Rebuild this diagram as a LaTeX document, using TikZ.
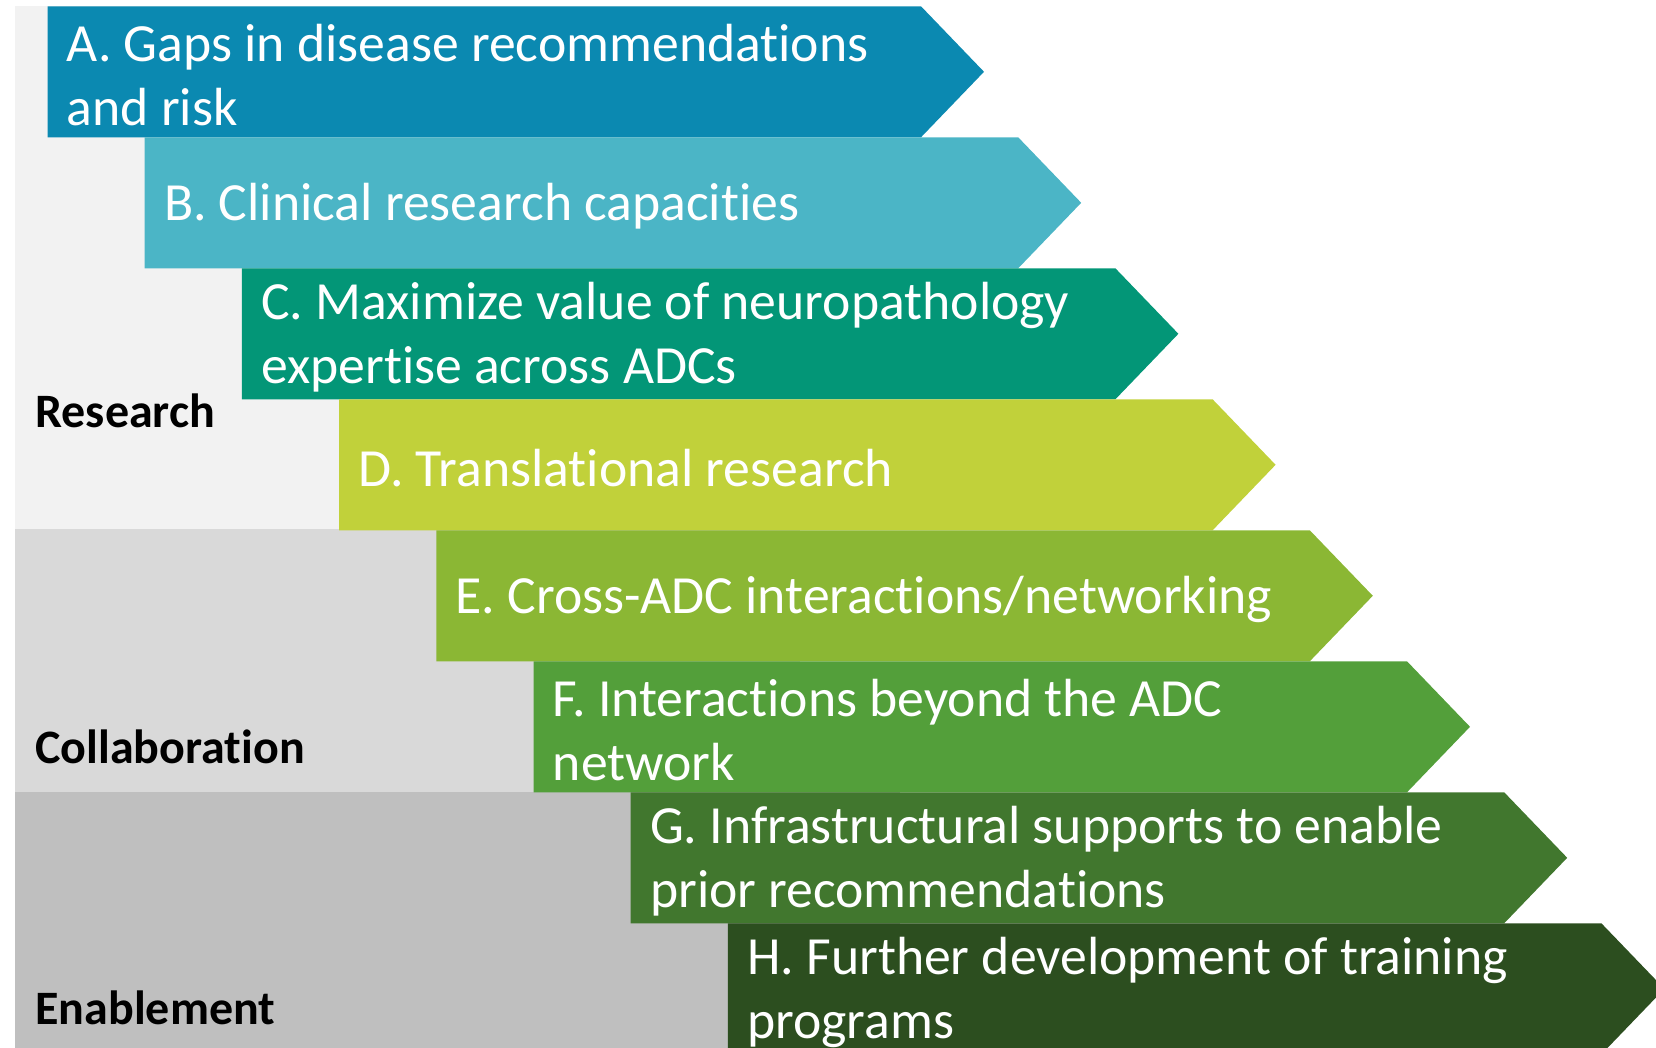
\documentclass[tikz,border=0pt]{standalone}
\usepackage{fontspec}
\setmainfont[Ligatures=CommonOff]{Carlito}
\definecolor{bandres}{HTML}{F2F2F2}
\definecolor{bandcol}{HTML}{D9D9D9}
\definecolor{bandena}{HTML}{BFBFBF}
\definecolor{stepa}{HTML}{0B89B1}
\definecolor{stepb}{HTML}{4BB5C6}
\definecolor{stepc}{HTML}{039677}
\definecolor{stepd}{HTML}{C1D13A}
\definecolor{stepe}{HTML}{8BB734}
\definecolor{stepf}{HTML}{539F3A}
\definecolor{stepg}{HTML}{41772E}
\definecolor{steph}{HTML}{2C4E1F}
\tikzset{
  steptext/.style={text=white, anchor=west, align=left, inner sep=0pt,
    font=\fontsize{26.85}{32}\selectfont},
  grouplabel/.style={anchor=base west, inner sep=0pt,
    font=\bfseries\fontsize{24}{28}\selectfont},
}
\begin{document}
\begin{tikzpicture}[x=0.5pt,y=-0.5pt]
\useasboundingbox (0,0) rectangle (1656,1048);
\clip (0,0) rectangle (1656,1048);

\fill[bandres] (15,6.3) rectangle (700,529); % research band
\fill[bandcol] (15,529) rectangle (800,792); % collaboration band
\fill[bandena] (15,792) rectangle (900,1048); % enablement band

% stepped arrows
\foreach \k/\col in {0/stepa,1/stepb,2/stepc,3/stepd,4/stepe,5/stepf,6/stepg,7/steph}
  \fill[\col] (47.5+97.2*\k,6.3+131*\k) -- ++(873.5,0) -- ++(63,65.5)
    -- ++(-63,65.5) -- ++(-873.5,0) -- cycle;

\node[steptext] (gaps) at (66.5,75.5) {A. Gaps in disease recommendations\\and risk};
\node[steptext] (clinical) at (163.7,206.5) {B. Clinical research capacities};
\node[steptext] (neuro) at (260.9,337.5) {C. Maximize value of neuropathology\\expertise across ADCs};
\node[steptext] (transl) at (358.1,468.5) {D. Translational research};
\node[steptext] (crossadc) at (455.3,599.5) {E. Cross-ADC interactions/networking};
\node[steptext] (beyond) at (552.5,730.5) {F. Interactions beyond the ADC\\network};
\node[steptext] (infra) at (649.7,861.5) {G. Infrastructural supports to enable\\prior recommendations};
\node[steptext] (training) at (746.9,992.5) {H. Further development of training\\programs};

\node[grouplabel] (research) at (35,428) {Research};
\node[grouplabel] (collab) at (35,763) {Collaboration};
\node[grouplabel] (enable) at (35,1024.5) {Enablement};
\end{tikzpicture}
\end{document}
